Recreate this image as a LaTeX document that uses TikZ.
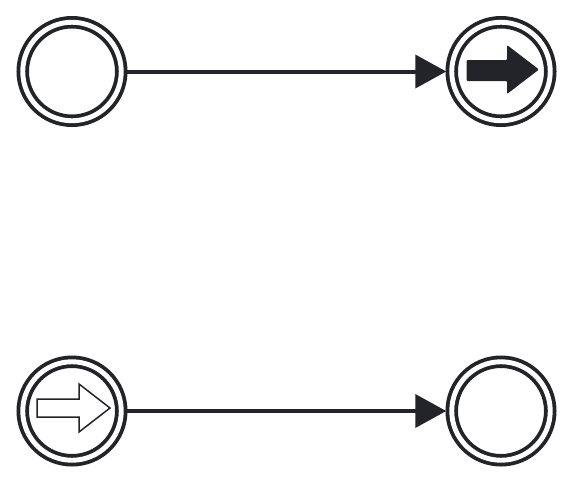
\documentclass[tikz,border=0pt]{standalone}
\usepackage{xcolor}
\usepackage{tikz}
\usetikzlibrary{arrows.meta}

\definecolor{ink}{RGB}{35,36,41}

\begin{document}
\begin{tikzpicture}[x=1pt, y=-1pt,
  event/.style={circle, draw=ink, line width=3.8pt, double=white,
    double distance=4.9pt, minimum size=98.5pt, inner sep=0pt, outer sep=5.5pt},
  flow/.style={draw=ink, line width=4pt, -{Triangle[length=31pt, width=33pt]}}]
  \useasboundingbox (0,0) rectangle (573,483);

  % Events
  \node[event] (start1) at (72,71.5) {};
  \node[event] (end1) at (501,71.5) {};
  \node[event] (start2) at (72,411) {};
  \node[event] (end2) at (501,411) {};

  % Sequence flows
  \draw[flow] (start1) -- (end1);
  \draw[flow] (start2) -- (end2);

  % Filled arrow (throwing)
  \fill[ink, rounded corners=1pt, shift={(end1.center)}]
    (-34.5,-11.5) -- (6,-11.5) -- (6,-26.5) -- (38,-2) --
    (6,22.5) -- (6,9.5) -- (-34.5,9.5) -- cycle;

  % Hollow arrow (catching)
  \draw[ink, fill=white, line width=1.5pt, shift={(start2.center)}]
    (-35,-12) -- (7,-12) -- (7,-27) -- (38,-3) --
    (7,21) -- (7,6) -- (-35,6) -- cycle;
\end{tikzpicture}
\end{document}
